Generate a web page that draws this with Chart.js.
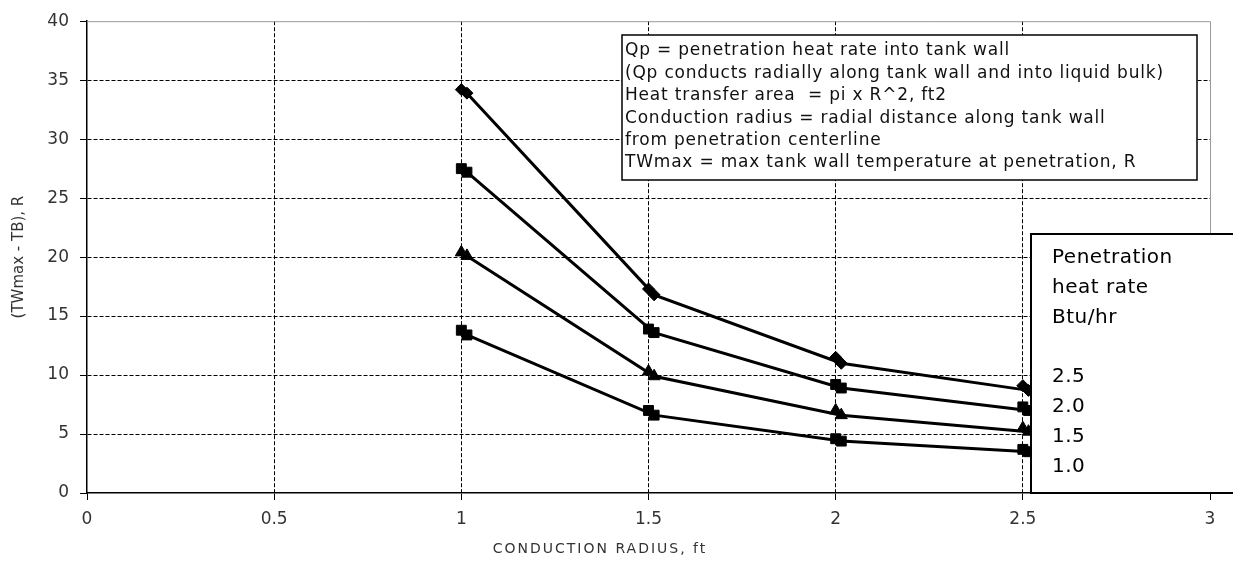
<!DOCTYPE html>
<html>
<head>
<meta charset="utf-8">
<script src="https://cdn.jsdelivr.net/npm/chart.js@4"></script>
<style>
  html, body { margin: 0; padding: 0; background: #fff; }
  canvas { display: block; }
</style>
</head>
<body>
<canvas id="js-canvas-radius" width="1233" height="563"></canvas>
<script>
// conduction radius, ft (second copy sits a hair to the right, as in the source sheet)
const radius = [1, 1.5, 2, 2.5];
const radiusShifted = [1.015, 1.515, 2.015, 2.515];

// penetration heat rates, Btu/hr
const rates = ['2.5', '2.0', '1.5', '1.0'];

// (TWmax - TB), R
const dT25 = [34.2, 17.3, 11.5, 9.1];
const dT25b = [33.9, 16.8, 11.0, 8.7];
const dT20 = [27.5, 13.9, 9.2, 7.3];
const dT20b = [27.2, 13.6, 8.9, 7.0];
const dT15 = [20.4, 10.3, 7.0, 5.5];
const dT15b = [20.1, 9.9, 6.6, 5.2];
const dT10 = [13.8, 7.0, 4.6, 3.7];
const dT10b = [13.4, 6.6, 4.4, 3.5];

const yTicks = [0, 5, 10, 15, 20, 25, 30, 35, 40];
const xTicks = [0, 0.5, 1, 1.5, 2, 2.5, 3];

const notes = [
  'Qp = penetration heat rate into tank wall',
  '(Qp conducts radially along tank wall and into liquid bulk)',
  'Heat transfer area  = pi x R^2, ft2',
  'Conduction radius = radial distance along tank wall',
  'from penetration centerline',
  'TWmax = max tank wall temperature at penetration, R'
];
const legendTitle = ['Penetration', 'heat rate', 'Btu/hr'];

const pts = (xs, ys) => xs.map((x, i) => ({ x: x, y: ys[i] }));

const series = [
  { label: rates[0], a: dT25, b: dT25b, style: 'rectRot', r: 6 },
  { label: rates[1], a: dT20, b: dT20b, style: 'rect', r: 7 },
  { label: rates[2], a: dT15, b: dT15b, style: 'triangle', r: 7 },
  { label: rates[3], a: dT10, b: dT10b, style: 'rect', r: 7 }
];

const datasets = [];
series.forEach(s => {
  datasets.push({
    label: s.label,
    data: pts(radiusShifted, s.b),
    showLine: true,
    borderColor: '#000',
    backgroundColor: '#000',
    borderWidth: 3,
    pointStyle: s.style,
    pointRadius: s.r,
    pointBorderWidth: 1,
    tension: 0
  });
  datasets.push({
    label: s.label + ' ',
    data: pts(radius, s.a),
    showLine: false,
    borderColor: '#000',
    backgroundColor: '#000',
    pointStyle: s.style,
    pointRadius: s.r,
    pointBorderWidth: 1
  });
});

const boxes = {
  id: 'boxes',
  beforeDatasetsDraw(chart) {
    const { ctx, chartArea: a } = chart;
    ctx.save();
    ctx.strokeStyle = '#999';
    ctx.lineWidth = 1;
    ctx.beginPath();
    ctx.moveTo(a.left, a.top + 0.5);
    ctx.lineTo(a.right + 0.5, a.top + 0.5);
    ctx.lineTo(a.right + 0.5, a.bottom);
    ctx.stroke();
    ctx.restore();
  },
  afterDraw(chart) {
    const { ctx } = chart;
    ctx.save();
    // notes box
    ctx.fillStyle = '#fff';
    ctx.fillRect(622, 35, 575, 145);
    ctx.strokeStyle = '#000';
    ctx.lineWidth = 1.5;
    ctx.strokeRect(622, 35, 575, 145);
    ctx.fillStyle = '#111';
    ctx.font = '17px "DejaVu Sans"';
    ctx.letterSpacing = '0.8px';
    ctx.textBaseline = 'middle';
    notes.forEach((t, i) => ctx.fillText(t, 625, 51 + i * 22.4));

    // legend box
    ctx.fillStyle = '#fff';
    ctx.fillRect(1031, 234, 210, 259);
    ctx.lineWidth = 2;
    ctx.strokeRect(1031, 234, 210, 259);
    ctx.fillStyle = '#000';
    ctx.font = '20px "DejaVu Sans"';
    ctx.letterSpacing = '0.5px';
    legendTitle.forEach((t, i) => ctx.fillText(t, 1052, 258 + i * 30));
    rates.forEach((t, i) => ctx.fillText(t, 1052, 377 + i * 30));

    // x-axis title
    ctx.fillStyle = '#333';
    ctx.font = '14px "DejaVu Sans"';
    ctx.letterSpacing = '2px';
    ctx.textAlign = 'center';
    ctx.fillText('CONDUCTION RADIUS, ft', 600, 549);
    ctx.restore();
  }
};

const hideEdges = (max) => ctx =>
  (ctx.tick && (ctx.tick.value === 0 || ctx.tick.value === max)) ? 'rgba(0,0,0,0)' : '#000';

new Chart(document.getElementById('js-canvas-radius'), {
  type: 'scatter',
  data: { datasets: datasets },
  options: {
    responsive: false,
    animation: false,
    layout: { padding: { top: 14, right: 23, left: 0, bottom: 0 } },
    plugins: {
      legend: { display: false },
      tooltip: { enabled: false }
    },
    scales: {
      x: {
        type: 'linear',
        min: 0,
        max: 3,
        afterFit: s => { s.height = 70; },
        afterBuildTicks: s => { s.ticks = xTicks.map(v => ({ value: v })); },
        grid: { color: hideEdges(3), lineWidth: 1, tickLength: 7, tickColor: '#000', tickBorderDash: [] },
        border: { color: '#000', width: 1.5, dash: [4, 2] },
        ticks: {
          color: '#333',
          font: { family: 'DejaVu Sans', size: 17 },
          padding: 9,
          maxRotation: 0,
          callback: v => String(v)
        }
      },
      y: {
        min: 0,
        max: 40,
        afterFit: s => { s.width = 87; },
        afterBuildTicks: s => { s.ticks = yTicks.map(v => ({ value: v })); },
        grid: { color: hideEdges(40), lineWidth: 1, tickLength: 7, tickColor: '#000', tickBorderDash: [] },
        border: { color: '#000', width: 1.5, dash: [4, 2] },
        ticks: {
          color: '#333',
          font: { family: 'DejaVu Sans', size: 17 },
          padding: 11,
          callback: v => String(v)
        },
        title: {
          display: true,
          text: '(TWmax - TB), R',
          color: '#333',
          font: { family: 'DejaVu Sans', size: 15 },
          padding: { top: 10, bottom: 0 }
        }
      }
    }
  },
  plugins: [boxes]
});
</script>
</body>
</html>
